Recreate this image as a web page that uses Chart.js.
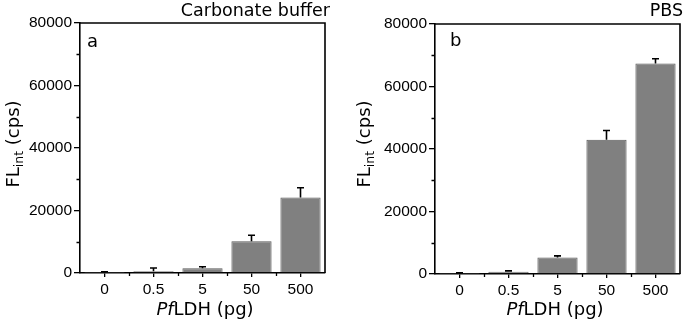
<!DOCTYPE html>
<html><head><meta charset="utf-8">
<script src="https://cdn.jsdelivr.net/npm/chart.js@4/dist/chart.umd.min.js"></script>
<style>
html,body{margin:0;padding:0;background:#fff;}
#wrap{position:relative;width:685px;height:324px;overflow:hidden;}
.cv{position:absolute;top:0;}
</style></head><body>
<div id="wrap">
<canvas id="c1" class="cv" width="345" height="324" style="left:0"></canvas>
<canvas id="c2" class="cv" width="340" height="324" style="left:345px"></canvas>
</div>
<script>
const categories = ['0', '0.5', '5', '50', '500'];
const carbonateValues = [100, 600, 1500, 10200, 24200];
const carbonateErrors = [300, 1000, 500, 1900, 3100];
const pbsValues = [100, 700, 5300, 43000, 67400];
const pbsErrors = [250, 300, 500, 2900, 1500];
const yTicks = [0, 20000, 40000, 60000, 80000];
const yMinorTicks = [10000, 30000, 50000, 70000];

const FONT = "'DejaVu Sans', sans-serif";
const TICKFONT = "'Liberation Sans', Arial, sans-serif";

function makeChart(id, values, errors, cfg) {
  const decor = {
    id: 'decor',
    afterDatasetsDraw(chart) {
      const ctx = chart.ctx, y = chart.scales.y;
      const meta = chart.getDatasetMeta(0);
      ctx.save();
      ctx.strokeStyle = '#000';
      ctx.lineWidth = 1.6;
      meta.data.forEach((bar, i) => {
        const x = bar.x;
        const yb = y.getPixelForValue(values[i]);
        const yt = y.getPixelForValue(values[i] + errors[i]);
        ctx.beginPath();
        ctx.moveTo(x, yb); ctx.lineTo(x, yt);
        ctx.moveTo(x - 3.5, yt); ctx.lineTo(x + 3.5, yt);
        ctx.stroke();
      });
      ctx.restore();
    },
    afterDraw(chart) {
      const ctx = chart.ctx, a = chart.chartArea, x = chart.scales.x, y = chart.scales.y;
      ctx.save();
      ctx.strokeStyle = '#000';
      ctx.lineWidth = 1.6;
      ctx.beginPath();
      ctx.moveTo(a.left, a.top); ctx.lineTo(a.right, a.top); ctx.lineTo(a.right, a.bottom);
      ctx.stroke();
      ctx.lineWidth = 1.3;
      ctx.beginPath();
      yMinorTicks.forEach(v => {
        const py = Math.round(y.getPixelForValue(v)) + 0.5;
        ctx.moveTo(a.left, py); ctx.lineTo(a.left - 3.5, py);
      });
      for (let i = 0; i < categories.length - 1; i++) {
        const px = Math.round(x.getPixelForValue(i + 0.5)) + 0.5;
        ctx.moveTo(px, a.bottom); ctx.lineTo(px, a.bottom + 3);
      }
      ctx.stroke();
      ctx.fillStyle = '#000';
      ctx.textBaseline = 'alphabetic';
      ctx.font = "17.5px " + FONT;
      ctx.textAlign = 'right';
      ctx.fillText(cfg.title, cfg.titleX, cfg.titleY);
      ctx.textAlign = 'left';
      ctx.font = "18px " + FONT;
      ctx.fillText(cfg.letter, cfg.letterX, cfg.letterY);
      ctx.font = "italic 18px " + FONT;
      const wPf = ctx.measureText('Pf').width;
      ctx.font = "18px " + FONT;
      const wRest = ctx.measureText('LDH (pg)').width;
      let sx = cfg.xtX - (wPf + wRest) / 2;
      ctx.font = "italic 18px " + FONT;
      ctx.fillText('Pf', sx, cfg.xtY);
      ctx.font = "18px " + FONT;
      ctx.fillText('LDH (pg)', sx + wPf, cfg.xtY);
      ctx.translate(cfg.ytX, cfg.ytY);
      ctx.rotate(-Math.PI / 2);
      ctx.font = "18px " + FONT;
      const w1 = ctx.measureText('FL').width;
      const w3 = ctx.measureText(' (cps)').width;
      ctx.font = "12.5px " + FONT;
      const w2 = ctx.measureText('int').width;
      let s = -(w1 + w2 + w3) / 2;
      ctx.font = "18px " + FONT;
      ctx.fillText('FL', s, 0);
      ctx.font = "12.5px " + FONT;
      ctx.fillText('int', s + w1, 4);
      ctx.font = "18px " + FONT;
      ctx.fillText(' (cps)', s + w1 + w2, 0);
      ctx.restore();
    }
  };

  return new Chart(document.getElementById(id), {
    type: 'bar',
    data: {
      labels: categories,
      datasets: [{
        data: values,
        backgroundColor: '#808080',
        borderColor: '#5a5a5a',
        borderWidth: 1,
        barPercentage: 0.82,
        categoryPercentage: 1.0
      }]
    },
    options: {
      responsive: false,
      animation: false,
      devicePixelRatio: 1,
      layout: { padding: { top: cfg.padTop, right: cfg.padRight, left: 0, bottom: 0 } },
      plugins: { legend: { display: false }, tooltip: { enabled: false } },
      scales: {
        x: {
          type: 'category',
          grid: { display: true, drawOnChartArea: false, drawTicks: true, tickLength: 4, color: '#000', lineWidth: 1.3, offset: false },
          border: { display: true, color: '#000', width: 1.6 },
          ticks: { color: '#000', font: { family: TICKFONT, size: 15.5 }, padding: 3, maxRotation: 0 },
          afterFit(scale) { scale.height = cfg.xHeight; }
        },
        y: {
          min: 0, max: 80000,
          afterBuildTicks(scale) { scale.ticks = yTicks.map(v => ({ value: v })); },
          grid: { display: true, drawOnChartArea: false, drawTicks: true, tickLength: 6, color: '#000', lineWidth: 1.3 },
          border: { display: true, color: '#000', width: 1.6 },
          ticks: { color: '#000', font: { family: TICKFONT, size: 15.5 }, padding: 2, callback: v => String(v) },
          afterFit(scale) { scale.width = cfg.yWidth; }
        }
      }
    },
    plugins: [decor]
  });
}

makeChart('c1', carbonateValues, carbonateErrors, {
  title: 'Carbonate buffer', titleX: 330, titleY: 16,
  letter: 'a', letterX: 87, letterY: 47,
  xtX: 205, xtY: 315, ytX: 18.5, ytY: 144,
  padTop: 23, padRight: 20, xHeight: 51, yWidth: 80
});
makeChart('c2', pbsValues, pbsErrors, {
  title: 'PBS', titleX: 338, titleY: 16,
  letter: 'b', letterX: 105, letterY: 46,
  xtX: 210, xtY: 315, ytX: 25, ytY: 144,
  padTop: 24, padRight: 5, xHeight: 50, yWidth: 90
});
</script>
</body></html>
